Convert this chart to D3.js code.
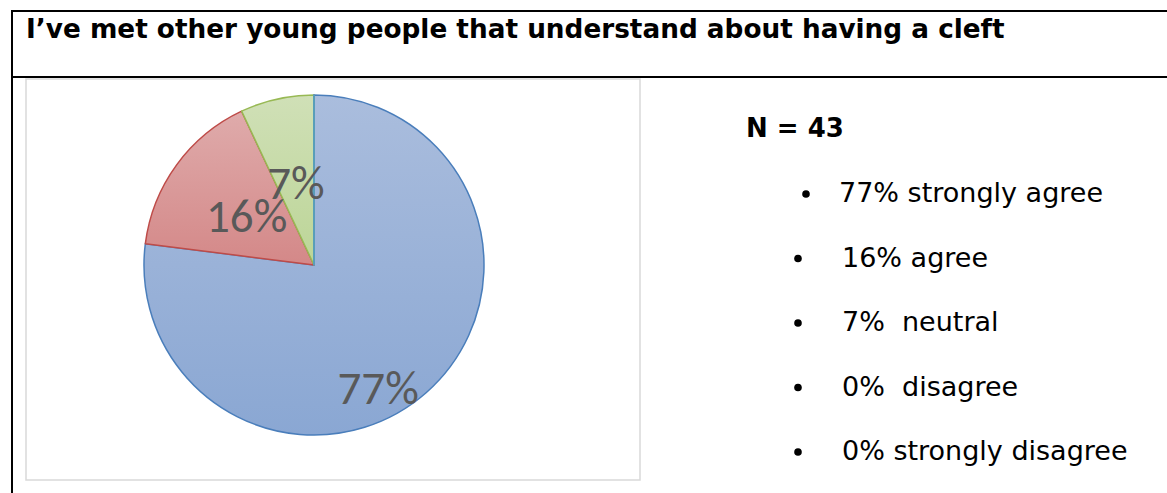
<!DOCTYPE html>
<html>
<head>
<meta charset="utf-8">
<script src="https://cdn.jsdelivr.net/npm/d3@7/dist/d3.min.js"></script>
<style>
  body { margin: 0; background: #fff; }
  text { white-space: pre; }
</style>
</head>
<body>
<svg id="chart"></svg>
<script>
const width = 1167;
const height = 493;

// data
const categories = ["strongly agree", "agree", "neutral", "disagree", "strongly disagree"];
const values = [77, 16, 7, 0, 0];
const listLabels = ["77% strongly agree", "16% agree", "7%  neutral", "0%  disagree", "0% strongly disagree"];
const titleText = "I\u2019ve met other young people that understand about having a cleft";
const sampleText = "N = 43";

// Excel 2010 style colours
const fillTop = ["#aabddd", "#dfabab", "#d0e0b7", "#b7a8cc", "#a9d6e4"];
const fillBottom = ["#8aa7d3", "#d48888", "#bcd597", "#9a86b8", "#8bc6d8"];
const strokes = ["#4a7ebb", "#be4b48", "#98b954", "#7d60a0", "#4bacc6"];

const svg = d3.select("#chart")
    .attr("width", width)
    .attr("height", height);

// gradients
const defs = svg.append("defs");
categories.forEach((c, i) => {
    const g = defs.append("linearGradient")
        .attr("id", "grad" + i)
        .attr("x1", 0).attr("y1", 0).attr("x2", 0).attr("y2", 1);
    g.append("stop").attr("offset", "0%").attr("stop-color", fillTop[i]);
    g.append("stop").attr("offset", "100%").attr("stop-color", fillBottom[i]);
});

// table lines
const table = svg.append("g").attr("stroke", "#000").attr("stroke-width", 2);
table.append("line").attr("x1", 12).attr("x2", 12).attr("y1", 10).attr("y2", height);
table.append("line").attr("x1", 11).attr("x2", width).attr("y1", 11).attr("y2", 11);
table.append("line").attr("x1", 11).attr("x2", width).attr("y1", 77).attr("y2", 77);

svg.append("text")
    .attr("x", 26)
    .attr("y", 38)
    .attr("font-family", "Verdana, 'DejaVu Sans', sans-serif")
    .attr("font-weight", "bold")
    .attr("font-size", 26.3)
    .attr("fill", "#000")
    .text(titleText);

// chart frame
const box = { x: 26, y: 79, w: 614, h: 401 };
svg.append("rect")
    .attr("x", box.x)
    .attr("y", box.y)
    .attr("width", box.w)
    .attr("height", box.h)
    .attr("fill", "#fff")
    .attr("stroke", "#d9d9d9")
    .attr("stroke-width", 1.5);

const radius = 170;
const pieG = svg.append("g")
    .attr("transform", `translate(${box.x + 288},${box.y + 186})`);

const pie = d3.pie().sort(null).value(d => d.value);
const arc = d3.arc().innerRadius(0).outerRadius(radius);
const pieData = pie(categories.map((c, i) => ({ cat: c, value: values[i], i: i })));

pieG.selectAll("path")
    .data(pieData)
    .join("path")
    .attr("d", arc)
    .attr("fill", d => `url(#grad${d.data.i})`)
    .attr("stroke", d => strokes[d.data.i])
    .attr("stroke-width", 1.5)
    .attr("stroke-linejoin", "round");

// label placement (Excel best fit): angle shift in degrees, radius fraction
const labelPlacement = [{ shift: 14, r: 0.82 }, { shift: 0, r: 0.49 }, { shift: 0, r: 0.49 }];

pieG.selectAll("text.pct")
    .data(pieData.filter(d => d.data.value > 0))
    .join("text")
    .attr("class", "pct")
    .attr("transform", (d, k) => {
        const p = labelPlacement[k];
        const a = (d.startAngle + d.endAngle) / 2 + p.shift * Math.PI / 180;
        const rr = radius * p.r;
        return `translate(${Math.sin(a) * rr},${-Math.cos(a) * rr})`;
    })
    .attr("text-anchor", "middle")
    .attr("dy", "0.33em")
    .attr("font-family", "Carlito, Roboto, sans-serif")
    .attr("font-size", 47)
    .attr("fill", "#595959")
    .text(d => d.data.value + "%");

// right hand text
const font = "Verdana, 'DejaVu Sans', sans-serif";
svg.append("text")
    .attr("x", 746)
    .attr("y", 137)
    .attr("font-family", font)
    .attr("font-weight", "bold")
    .attr("font-size", 26)
    .attr("fill", "#000")
    .text(sampleText);

const yList = d3.scalePoint()
    .domain(categories)
    .range([202, 460]);

const items = svg.append("g").selectAll("g")
    .data(categories)
    .join("g")
    .attr("transform", c => `translate(0,${yList(c)})`);

items.append("circle")
    .attr("cx", (c, i) => i === 0 ? 806 : 798)
    .attr("cy", -8)
    .attr("r", 3.8)
    .attr("fill", "#000");

items.append("text")
    .attr("x", (c, i) => i === 0 ? 839 : 842)
    .attr("font-family", font)
    .attr("font-size", 27)
    .attr("fill", "#000")
    .text((c, i) => listLabels[i]);
</script>
</body>
</html>
